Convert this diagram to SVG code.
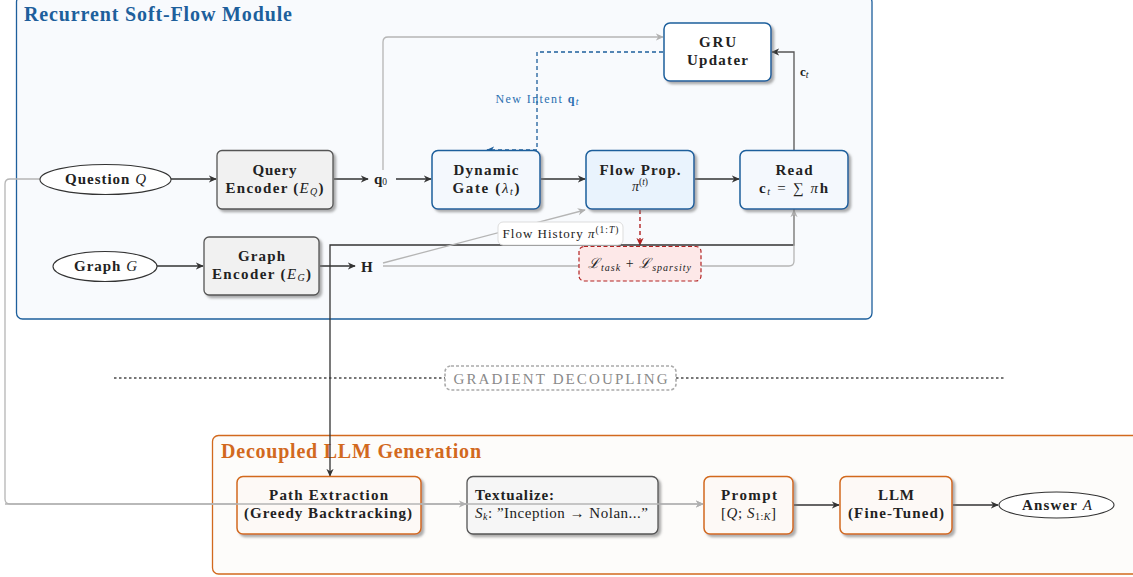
<svg xmlns="http://www.w3.org/2000/svg" width="1133" height="577" viewBox="0 0 1133 577">
<style>
text{font-family:"Liberation Serif","DejaVu Serif",serif;fill:#222}
.b{font-weight:bold}
.t{font-size:15px;font-weight:bold;text-anchor:middle}
.i{font-style:italic;font-weight:normal}
.sub{font-size:10px}
.dark{stroke:#333;stroke-width:1.3;fill:none}
.gray{stroke:#b5b5b5;stroke-width:1.3;fill:none}
.blue{fill:#f4f8fd;stroke:#1d5f9c;stroke-width:1.5}
.orange{fill:#fdf9f6;stroke:#d2691e;stroke-width:1.5}
.neutral{fill:#f1f1f1;stroke:#555;stroke-width:1.3}
</style>
<defs>
<filter id="sh" x="-10%" y="-10%" width="130%" height="140%">
<feDropShadow dx="2.5" dy="2.5" stdDeviation="0.8" flood-color="#777" flood-opacity="0.6"/>
</filter>
<marker id="ad" viewBox="0 0 10 10" refX="9" refY="5" markerWidth="8" markerHeight="8" markerUnits="userSpaceOnUse" orient="auto"><path d="M0,0.5 L10,5 L0,9.5 L3,5 Z" fill="#333"/></marker>
<marker id="ag" viewBox="0 0 10 10" refX="9" refY="5" markerWidth="8" markerHeight="8" markerUnits="userSpaceOnUse" orient="auto"><path d="M0,0.5 L10,5 L0,9.5 L3,5 Z" fill="#b0b0b0"/></marker>
<marker id="ab" viewBox="0 0 10 10" refX="9" refY="5" markerWidth="8" markerHeight="8" markerUnits="userSpaceOnUse" orient="auto"><path d="M0,0.5 L10,5 L0,9.5 L3,5 Z" fill="#1d5f9c"/></marker>
<marker id="ar" viewBox="0 0 10 10" refX="9" refY="5" markerWidth="8" markerHeight="8" markerUnits="userSpaceOnUse" orient="auto"><path d="M0,0.5 L10,5 L0,9.5 L3,5 Z" fill="#b22222"/></marker>
</defs>
<rect width="1133" height="577" fill="#fff"/>

<g id="panel-top">
<rect x="16.5" y="-4" width="855.5" height="323" rx="6" fill="#f8fafd" stroke="#1d5f9c" stroke-width="1.3"/>
<text x="24" y="21" class="b" font-size="20" style="fill:#1d5f9c" textLength="268">Recurrent Soft-Flow Module</text>
</g>
<g id="panel-bottom">
<rect x="212.5" y="435.5" width="930" height="138.5" rx="6" fill="#fdfcfa" stroke="#d2691e" stroke-width="1.3"/>
<text x="221" y="458" class="b" font-size="20" style="fill:#d2691e" textLength="260">Decoupled LLM Generation</text>
</g>

<g id="decoupling">
<line x1="114" y1="378" x2="445" y2="378" stroke="#777" stroke-width="2" stroke-dasharray="2.5 2.5"/>
<line x1="676" y1="378" x2="1005" y2="378" stroke="#777" stroke-width="2" stroke-dasharray="2.5 2.5"/>
<rect x="445" y="366" width="231" height="24" rx="6" fill="#fff" stroke="#aaa" stroke-width="1.6" stroke-dasharray="3 2"/>
<text x="560.5" y="383.5" font-size="15" text-anchor="middle" style="fill:#8a8a8a" textLength="214">GRADIENT DECOUPLING</text>
</g>

<g id="connectors">
<line class="dark" x1="171" y1="179" x2="216" y2="179" marker-end="url(#ad)"/>
<line class="dark" x1="334" y1="179" x2="368" y2="179" marker-end="url(#ad)"/>
<line class="dark" x1="396" y1="179" x2="431" y2="179" marker-end="url(#ad)"/>
<line class="dark" x1="541" y1="179" x2="585" y2="179" marker-end="url(#ad)"/>
<line class="dark" x1="695" y1="179" x2="739" y2="179" marker-end="url(#ad)"/>
<path class="gray" d="M383,170 V42 Q383,37 388,37 H663" marker-end="url(#ag)"/>
<path d="M663,52 H537 V150 H487" fill="none" stroke="#1d5f9c" stroke-width="1.3" stroke-dasharray="4 3" marker-end="url(#ab)"/>
<text x="537" y="103" font-size="12" text-anchor="middle" style="fill:#2a6fb0" textLength="83">New Intent <tspan font-weight="bold" style="fill:#2a6fb0">q</tspan><tspan class="i sub" dy="2" style="fill:#2a6fb0">t</tspan></text>
<path d="M794,150 V52 H772" fill="none" stroke="#555" stroke-width="1.3" marker-end="url(#ad)"/>
<text x="800" y="76" font-size="13"><tspan class="b">c</tspan><tspan class="i sub" dy="2">t</tspan></text>
<line x1="640" y1="210" x2="640" y2="245" stroke="#b22222" stroke-width="1.4" stroke-dasharray="4 3" marker-end="url(#ar)"/>
<line class="dark" x1="157" y1="266" x2="203" y2="266" marker-end="url(#ad)"/>
<line class="dark" x1="320" y1="266" x2="355" y2="266" marker-end="url(#ad)"/>
<path class="dark" d="M794,209 V245 H330 V476" marker-end="url(#ad)"/>
<path class="gray" d="M383,266 H789 Q794,266 794,261 V210" marker-end="url(#ag)"/>
<line class="gray" x1="383" y1="263" x2="585" y2="210" marker-end="url(#ag)"/>
<path class="gray" d="M40,179 H10 Q5,179 5,184 V499 Q5,504 10,504 H703" marker-end="url(#ag)"/>
<line class="dark" x1="794" y1="505" x2="839" y2="505" marker-end="url(#ad)"/>
<line class="dark" x1="953" y1="505" x2="998" y2="505" marker-end="url(#ad)"/>
</g>

<g id="flow-history-label">
<rect x="498" y="222" width="125" height="23" rx="5" fill="#fff" stroke="#ddd" stroke-width="1"/>
<text x="560.5" y="238" font-size="13" text-anchor="middle" textLength="116">Flow History <tspan class="i">π</tspan><tspan font-size="9.5" dy="-5">(1:</tspan><tspan font-size="9.5" class="i">T</tspan><tspan font-size="9.5">)</tspan></text>
</g>

<g id="question">
<ellipse cx="105.5" cy="179.5" rx="65.5" ry="15" fill="#fff" stroke="#333" stroke-width="1.1"/>
<text x="105.5" y="184" class="t" textLength="81">Question <tspan class="i">Q</tspan></text>
</g>
<g id="query-encoder">
<rect x="217" y="150.5" width="116" height="58.5" rx="5" class="neutral" filter="url(#sh)"/>
<text x="274.5" y="175" class="t" textLength="44">Query</text>
<text x="274.5" y="193" class="t" textLength="98">Encoder (<tspan class="i">E</tspan><tspan class="i sub" dy="2">Q</tspan><tspan dy="-2">)</tspan></text>
</g>
<g id="q0">
<text x="374" y="183.5" font-size="15" class="b">q<tspan font-size="9.5" font-weight="normal" dy="1">0</tspan></text>
</g>
<g id="dynamic-gate">
<rect x="432" y="150.5" width="108" height="58.5" rx="6" class="blue" filter="url(#sh)"/>
<text x="486" y="175" class="t" textLength="65">Dynamic</text>
<text x="486" y="193" class="t" textLength="67">Gate (<tspan class="i">λ</tspan><tspan class="i sub" dy="2">t</tspan><tspan dy="-2">)</tspan></text>
</g>
<g id="flow-prop">
<rect x="586" y="150.5" width="108" height="58.5" rx="6" class="blue" style="fill:#e9f3fd" filter="url(#sh)"/>
<text x="640" y="175" class="t" textLength="81">Flow Prop.</text>
<text x="640" y="191" font-size="14" text-anchor="middle"><tspan class="i">π</tspan><tspan font-size="9.5" dy="-6">(</tspan><tspan font-size="9.5" class="i">t</tspan><tspan font-size="9.5">)</tspan></text>
</g>
<g id="read">
<rect x="740" y="150.5" width="108" height="58.5" rx="6" class="blue" filter="url(#sh)"/>
<text x="794" y="175" class="t" textLength="37">Read</text>
<text x="793.5" y="193" class="t" textLength="69">c<tspan class="i sub" dy="2">t</tspan><tspan dy="-2" font-weight="normal"> = ∑ </tspan><tspan class="i">π</tspan>h</text>
</g>
<g id="gru">
<rect x="664" y="23" width="107" height="58" rx="6" class="blue" style="fill:#fff" filter="url(#sh)"/>
<text x="717.5" y="47" class="t" textLength="37">GRU</text>
<text x="717.5" y="65" class="t" textLength="61">Updater</text>
</g>
<g id="graph">
<ellipse cx="105" cy="266.5" rx="52" ry="15" fill="#fff" stroke="#333" stroke-width="1.1"/>
<text x="105.5" y="271" class="t" textLength="63">Graph <tspan class="i">G</tspan></text>
</g>
<g id="graph-encoder">
<rect x="204" y="237" width="115" height="58" rx="5" class="neutral" filter="url(#sh)"/>
<text x="261.5" y="261" class="t" textLength="47">Graph</text>
<text x="261.5" y="279" class="t" textLength="99">Encoder (<tspan class="i">E</tspan><tspan class="i sub" dy="2">G</tspan><tspan dy="-2">)</tspan></text>
</g>
<g id="h">
<text x="361" y="271.5" font-size="15" class="b">H</text>
</g>
<g id="loss">
<rect x="579" y="246.5" width="122" height="34.5" rx="5" fill="#fde8e8" stroke="#b22222" stroke-width="1.2" stroke-dasharray="4 2.5"/>
<text x="639.5" y="268" font-size="14" text-anchor="middle" textLength="103"><tspan class="i">ℒ</tspan><tspan class="i sub" dy="3">task</tspan><tspan dy="-3"> + </tspan><tspan class="i">ℒ</tspan><tspan class="i sub" dy="3">sparsity</tspan></text>
</g>

<g id="path-extraction">
<rect x="237" y="476.5" width="184" height="57.5" rx="6" class="orange" filter="url(#sh)"/>
<text x="328.5" y="500" class="t" textLength="119">Path Extraction</text>
<text x="328" y="518" class="t" textLength="168">(Greedy Backtracking)</text>
</g>
<g id="textualize">
<rect x="467" y="476.5" width="191" height="57.5" rx="6" fill="#f6f6f6" stroke="#555" stroke-width="1.3" filter="url(#sh)"/>
<text x="475" y="500" font-size="15" class="b" textLength="79">Textualize:</text>
<text x="475" y="518" font-size="15" textLength="173"><tspan class="i">S</tspan><tspan class="i sub" dy="2">k</tspan><tspan dy="-2">: ”Inception → Nolan...”</tspan></text>
</g>
<g id="prompt">
<rect x="704" y="476.5" width="89" height="57.5" rx="6" class="orange" filter="url(#sh)"/>
<text x="749" y="500" class="t" textLength="56">Prompt</text>
<text x="748.5" y="518" font-size="15" text-anchor="middle" textLength="55">[<tspan class="i">Q</tspan>; <tspan class="i">S</tspan><tspan class="sub" dy="2">1:</tspan><tspan class="i sub">K</tspan><tspan dy="-2">]</tspan></text>
</g>
<g id="llm">
<rect x="840" y="476.5" width="112" height="57.5" rx="6" class="orange" filter="url(#sh)"/>
<text x="896" y="500" class="t" textLength="36">LLM</text>
<text x="896" y="518" class="t" textLength="96">(Fine-Tuned)</text>
</g>
<g id="answer">
<ellipse cx="1056.5" cy="505" rx="57.5" ry="13" fill="#fff" stroke="#333" stroke-width="1.1"/>
<text x="1057" y="510" class="t" textLength="70">Answer <tspan class="i">A</tspan></text>
</g>
<g id="overlay-lines">
<path class="gray" d="M5,504 H703" marker-end="url(#ag)"/>
<line class="gray" x1="421" y1="504" x2="466" y2="504" marker-end="url(#ag)"/>
</g>
</svg>
